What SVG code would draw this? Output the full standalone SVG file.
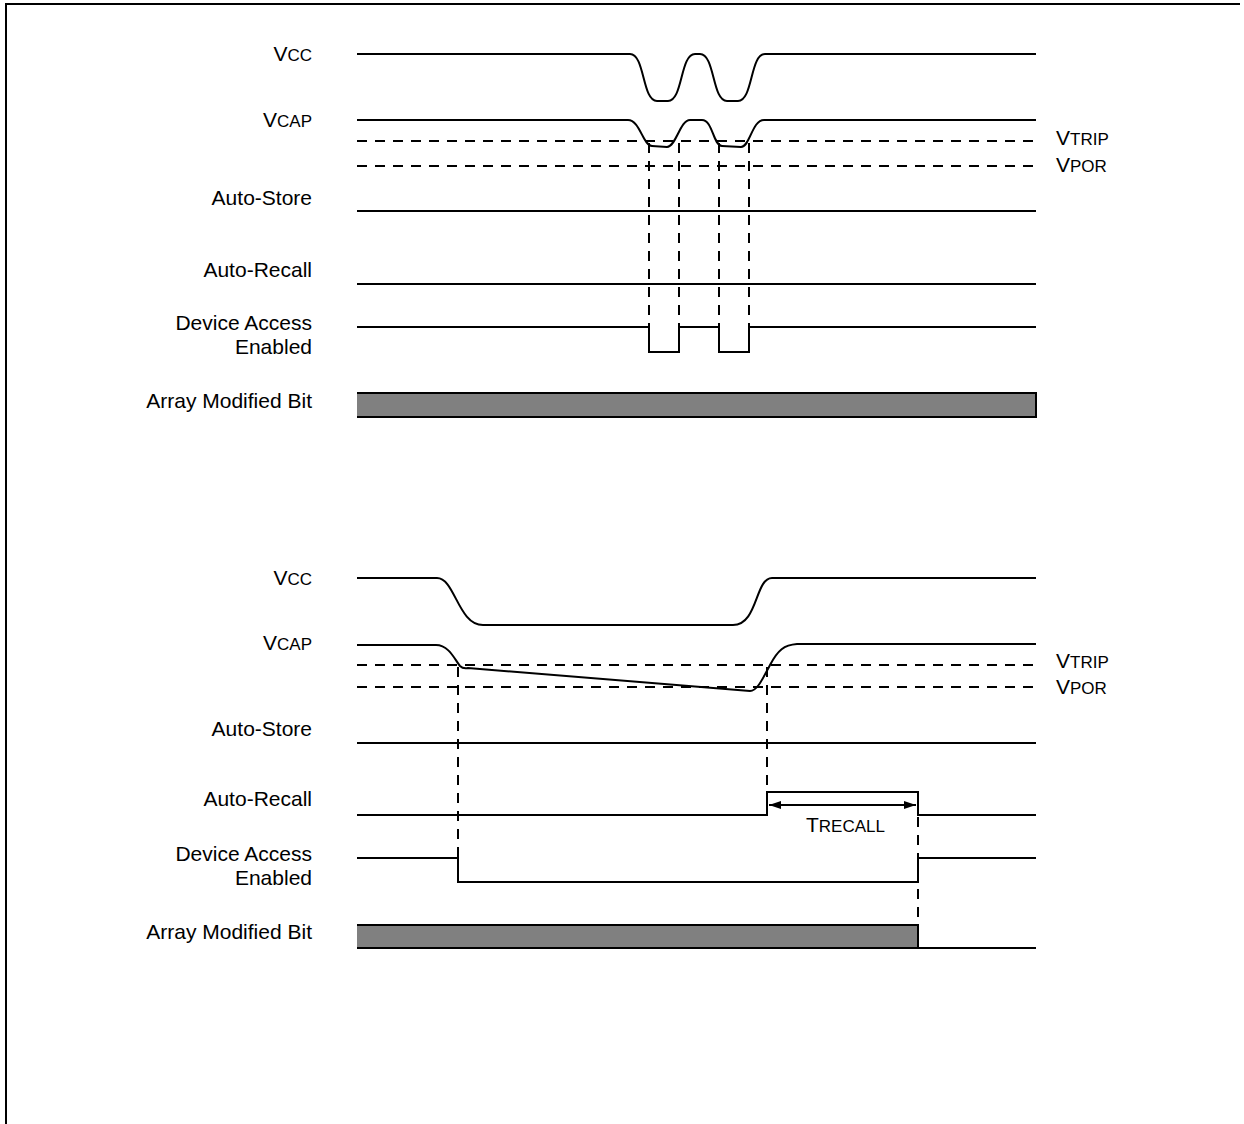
<svg xmlns="http://www.w3.org/2000/svg" width="1244" height="1124" viewBox="0 0 1244 1124">
<defs>
<style>
.lbl{font-family:"Liberation Sans",Arial,sans-serif;font-size:21px;fill:#000;text-anchor:end}
.lv{font-family:"Liberation Sans",Arial,sans-serif;font-size:21px;fill:#000}
.sm{font-size:17px}
.sig{fill:none;stroke:#000;stroke-width:2}
.dash{fill:none;stroke:#000;stroke-width:2;stroke-dasharray:10,8}
.bar{fill:#808080;stroke:none}
</style>
<marker id="ah" viewBox="0 0 12 8" refX="12" refY="4" markerWidth="12" markerHeight="8" markerUnits="userSpaceOnUse" orient="auto-start-reverse">
<path d="M0,0 L12,4 L0,8 Z" fill="#000"/>
</marker>
</defs>
<rect width="1244" height="1124" fill="#fff"/>
<path d="M6,1124 V4 H1240" class="sig" stroke-width="2"/>

<!-- Top panel -->
<g id="top-vcc">
<text class="lbl" x="312" y="61">V<tspan class="sm">CC</tspan></text>
<path class="sig" d="M357,54 H630 C645,54 642,101 657,101 H668 C683,101 680,54 695,54 H700 C715,54 712,101 727,101 H738 C753,101 750,54 765,54 H1036"/>
</g>
<g id="top-vcap">
<text class="lbl" x="312" y="127">V<tspan class="sm">CAP</tspan></text>
<path class="sig" d="M357,120 H628 C640,120 643,146 652,146 L667,147 C676,147 680,120 690,120 H702 C713,120 713,146 722,146 L741,147 C750,147 752,120 764,120 H1036"/>
</g>
<g id="top-vtrip">
<path class="dash" d="M357,141 H1036"/>
<text class="lv" x="1056" y="145">V<tspan class="sm">TRIP</tspan></text>
</g>
<g id="top-vpor">
<path class="dash" d="M357,166 H1036"/>
<text class="lv" x="1056" y="172">V<tspan class="sm">POR</tspan></text>
</g>
<g id="top-autostore">
<text class="lbl" x="312" y="205">Auto-Store</text>
<path class="sig" d="M357,211 H1036"/>
</g>
<g id="top-autorecall">
<text class="lbl" x="312" y="277">Auto-Recall</text>
<path class="sig" d="M357,284 H1036"/>
</g>
<g id="top-device">
<text class="lbl" x="312" y="330">Device Access</text>
<text class="lbl" x="312" y="354">Enabled</text>
<path class="sig" d="M357,327 H649 V352 H679 V327 H719 V352 H749 V327 H1036"/>
</g>
<g id="top-array">
<text class="lbl" x="312" y="408">Array Modified Bit</text>
<rect class="bar" x="357" y="393" width="679" height="24"/>
<path class="sig" d="M357,393 H1036 V417 H357"/>
</g>

<!-- Bottom panel -->
<g id="bot-vcc">
<text class="lbl" x="312" y="585">V<tspan class="sm">CC</tspan></text>
<path class="sig" d="M357,578 H437 C455,578 458,625 483,625 H733 C758,625 755,578 772,578 H1036"/>
</g>
<g id="bot-vcap">
<text class="lbl" x="312" y="650">V<tspan class="sm">CAP</tspan></text>
<path class="sig" d="M357,645 H436 C449,645 455,660 460,666 Q463,669 468,668 L750,691 C757,691 762,680 770,665 C778,650 784,645 797,644 H1036"/>
</g>
<g id="bot-vtrip">
<path class="dash" d="M357,665 H1036"/>
<text class="lv" x="1056" y="668">V<tspan class="sm">TRIP</tspan></text>
</g>
<g id="bot-vpor">
<path class="dash" d="M357,687 H1036"/>
<text class="lv" x="1056" y="694">V<tspan class="sm">POR</tspan></text>
</g>
<g id="bot-autostore">
<text class="lbl" x="312" y="736">Auto-Store</text>
<path class="sig" d="M357,743 H1036"/>
</g>
<g id="bot-autorecall">
<text class="lbl" x="312" y="806">Auto-Recall</text>
<path class="sig" d="M357,815 H767 V792 H918 V815 H1036"/>
</g>
<g id="bot-device">
<text class="lbl" x="312" y="861">Device Access</text>
<text class="lbl" x="312" y="885">Enabled</text>
<path class="sig" d="M357,858 H458 V882 H918 V858 H1036"/>
</g>
<g id="bot-array">
<text class="lbl" x="312" y="939">Array Modified Bit</text>
<rect class="bar" x="357" y="925" width="561" height="23"/>
<path class="sig" d="M357,925 H918 V948 M357,948 H1036"/>
</g>
<g id="trecall-label">
<text class="lv" x="806" y="832">T<tspan class="sm">RECALL</tspan></text>
</g>

<!-- Connectors -->
<g id="connectors">
<path class="dash" d="M649,143 V327 M679,143 V327 M719,143 V327 M749,143 V327"/>
<path class="dash" d="M458,667 V858 M767,667 V792 M918,817 V925"/>
<path class="sig" d="M769,805 H916" marker-start="url(#ah)" marker-end="url(#ah)"/>
</g>
</svg>
